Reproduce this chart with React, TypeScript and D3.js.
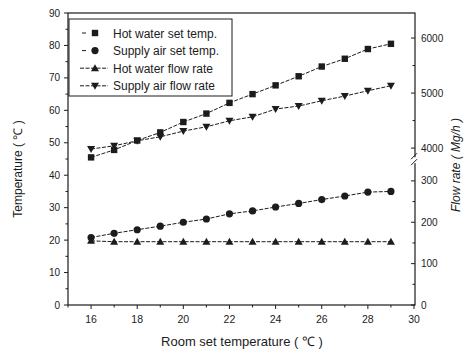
import React from 'react';
import * as d3 from 'd3';

const roomTemp = [16, 17, 18, 19, 20, 21, 22, 23, 24, 25, 26, 27, 28, 29];
const hotWaterTemp = [45.5, 47.8, 50.7, 53.2, 56.4, 59.0, 62.3, 65.0, 67.7, 70.5, 73.5, 75.9, 78.9, 80.5];
const supplyAirTemp = [20.8, 22.1, 23.2, 24.3, 25.5, 26.5, 28.1, 29.0, 30.2, 31.3, 32.5, 33.6, 34.8, 35.0];
const hotWaterFlow = [155, 153, 153, 153, 153, 153, 153, 153, 153, 153, 153, 153, 153, 153];
const supplyAirFlow = [3982, 4042, 4133, 4205, 4309, 4387, 4496, 4569, 4709, 4764, 4860, 4945, 5042, 5133];

const xTicks = [16, 18, 20, 22, 24, 26, 28, 30];
const tempTicks = [0, 10, 20, 30, 40, 50, 60, 70, 80, 90];
const flowLowTicks = [0, 100, 200, 300];
const flowHighTicks = [4000, 5000, 6000];
const legendItems = ['Hot water set temp.', 'Supply air set temp.', 'Hot water flow rate', 'Supply air flow rate'];

const L = 68, R = 415, T = 13, B = 305, BRK = 160.2;
const ink = '#1c1c1c';
const font = '"Liberation Sans", Arial, sans-serif';

function Marker({ kind, x, y }: { kind: number; x: number; y: number }) {
  if (kind === 0) return <rect x={x - 3.2} y={y - 3.2} width={6.4} height={6.4} fill={ink} />;
  if (kind === 1) return <circle cx={x} cy={y} r={3.6} fill={ink} />;
  if (kind === 2) return <path d={`M${x},${y - 4}L${x + 4},${y + 3}L${x - 4},${y + 3}Z`} fill={ink} />;
  return <path d={`M${x},${y + 4}L${x + 4},${y - 3}L${x - 4},${y - 3}Z`} fill={ink} />;
}

export default function App() {
  const x = d3.scaleLinear().domain([15, 30]).range([L, R - 1]);
  const yT = d3.scaleLinear().domain([0, 90]).range([B, T]);
  const yLow = d3.scaleLinear().domain([0, 350]).range([B, BRK]);
  const yHigh = d3.scaleLinear().domain([3780, 6455]).range([BRK, T]);

  const series = [
    roomTemp.map((t, i) => [x(t), yT(hotWaterTemp[i])]),
    roomTemp.map((t, i) => [x(t), yT(supplyAirTemp[i])]),
    roomTemp.map((t, i) => [x(t), yLow(hotWaterFlow[i])]),
    roomTemp.map((t, i) => [x(t), yHigh(supplyAirFlow[i])]),
  ] as [number, number][][];
  const line = d3.line();

  const xMinor = d3.range(15, 31, 1);
  const tMinor = d3.range(5, 90, 10);
  const lowMinor = [50, 150, 250];
  const highMinor = [4500, 5500];

  return (
    <svg width={473} height={353} style={{ position: 'absolute', left: 0, top: 0, background: '#fff' }} fontFamily={font}>
      {series.map((pts, k) => (
        <path key={k} d={line(pts) || ''} fill="none" stroke={ink} strokeWidth={1} strokeDasharray="4,1.5" />
      ))}
      {series.map((pts, k) => pts.map((p, i) => <Marker key={`${k}-${i}`} kind={k} x={p[0]} y={p[1]} />))}

      <rect x={L} y={T} width={R - L} height={B - T} fill="none" stroke={ink} strokeWidth={1.2} />

      {xTicks.map(t => (
        <g key={t}>
          <line x1={x(t)} x2={x(t)} y1={B} y2={B + 4} stroke={ink} />
          <text x={x(t)} y={B + 18} textAnchor="middle" fontSize={10.5} fill={ink}>{t}</text>
        </g>
      ))}
      {xMinor.filter(t => t % 2 === 1).map(t => (
        <line key={t} x1={x(t)} x2={x(t)} y1={B} y2={B + 2.5} stroke={ink} />
      ))}

      {tempTicks.map(t => (
        <g key={t}>
          <line x1={L - 4} x2={L} y1={yT(t)} y2={yT(t)} stroke={ink} />
          <text x={L - 8} y={yT(t) + 3.5} textAnchor="end" fontSize={10} fill={ink}>{t}</text>
        </g>
      ))}
      {tMinor.map(t => <line key={t} x1={L - 2.5} x2={L} y1={yT(t)} y2={yT(t)} stroke={ink} />)}

      {flowLowTicks.map(t => (
        <g key={t}>
          <line x1={R - 4} x2={R} y1={yLow(t)} y2={yLow(t)} stroke={ink} />
          <text x={R + 6} y={yLow(t) + 3.5} fontSize={10} fill={ink}>{t}</text>
        </g>
      ))}
      {lowMinor.map(t => <line key={t} x1={R - 2.5} x2={R} y1={yLow(t)} y2={yLow(t)} stroke={ink} />)}
      {flowHighTicks.map(t => (
        <g key={t}>
          <line x1={R - 4} x2={R} y1={yHigh(t)} y2={yHigh(t)} stroke={ink} />
          <text x={R + 6} y={yHigh(t) + 3.5} fontSize={10} fill={ink}>{t}</text>
        </g>
      ))}
      {highMinor.map(t => <line key={t} x1={R - 2.5} x2={R} y1={yHigh(t)} y2={yHigh(t)} stroke={ink} />)}
      <line x1={R} x2={R} y1={BRK - 3} y2={BRK + 3} stroke="#fff" strokeWidth={3} />
      <line x1={R - 4} x2={R + 2} y1={BRK - 1} y2={BRK - 7} stroke={ink} strokeWidth={1} />
      <line x1={R - 4} x2={R + 2} y1={BRK + 5} y2={BRK - 1} stroke={ink} strokeWidth={1} />

      <text x={242} y={346} textAnchor="middle" fontSize={13} fill={ink}>Room set temperature ( ℃ )</text>
      <text transform={`translate(22,${(T + B) / 2 + 10}) rotate(-90)`} textAnchor="middle" fontSize={12} fill={ink}>Temperature ( ℃ )</text>
      <text transform={`translate(460,165) rotate(-90)`} textAnchor="middle" fontSize={12} fontStyle="italic" fill={ink}>Flow rate ( Mg/h )</text>

      <rect x={69} y={19} width={163} height={77} fill="#fff" stroke={ink} strokeWidth={1} />
      {legendItems.map((name, k) => {
        const ly = 33 + k * 17.6;
        return (
          <g key={name}>
            {k < 2
              ? <line x1={82} x2={86} y1={ly} y2={ly} stroke={ink} />
              : <line x1={80} x2={108} y1={ly} y2={ly} stroke={ink} strokeDasharray="4,1.5" />}
            <Marker kind={k} x={95} y={ly} />
            <text x={113} y={ly + 4.5} fontSize={12} fill={ink}>{name}</text>
          </g>
        );
      })}
    </svg>
  );
}
